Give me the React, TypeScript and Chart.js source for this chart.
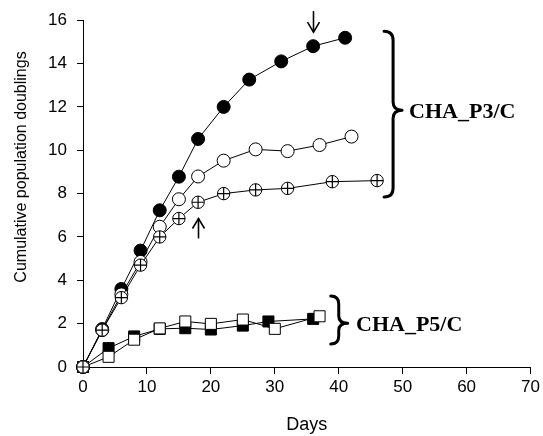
import React, { useEffect, useRef } from 'react';
import { Chart, registerables } from 'chart.js';

Chart.register(...registerables);

// ---- data (days, cumulative population doublings) ----
const filledCircleDays = [0, 3, 6, 9, 12, 15, 18, 22, 26, 31, 36, 41];
const filledCircleValues = [0, 1.75, 3.6, 5.37, 7.23, 8.78, 10.52, 12.0, 13.26, 14.1, 14.8, 15.19];

const openCircleDays = [0, 3, 6, 9, 12, 15, 18, 22, 27, 32, 37, 42];
const openCircleValues = [0, 1.7, 3.35, 4.85, 6.47, 7.74, 8.79, 9.52, 10.04, 9.96, 10.24, 10.63];

const crossCircleDays = [0, 3, 6, 9, 12, 15, 18, 22, 27, 32, 39, 46];
const crossCircleValues = [0, 1.7, 3.2, 4.7, 6.0, 6.85, 7.6, 8.0, 8.17, 8.24, 8.55, 8.6];

const filledSquareDays = [0, 4, 8, 12, 16, 20, 25, 29, 36];
const filledSquareValues = [0, 0.87, 1.41, 1.76, 1.79, 1.73, 1.91, 2.1, 2.22];

const openSquareDays = [0, 4, 8, 12, 16, 20, 25, 30, 37];
const openSquareValues = [0, 0.47, 1.26, 1.78, 2.1, 1.99, 2.19, 1.76, 2.34];

const xTickValues = [0, 10, 20, 30, 40, 50, 60, 70];
const yTickValues = [0, 2, 4, 6, 8, 10, 12, 14, 16];

const groupLabels = ['CHA_P3/C', 'CHA_P5/C'];
const xTitle = 'Days';
const yTitle = 'Cumulative population doublings';

// annotation anchors in data units
const braceP3 = { day: 48.5, top: 15.49, bottom: 7.84, mid: 11.85, textDay: 51.0 };
const braceP5 = { day: 40.0, top: 3.28, bottom: 1.06, mid: 2.02, textDay: 42.7 };
const arrowDown = { day: 36, from: 16.42, to: 15.45 };
const arrowUp = { day: 18, from: 5.93, to: 6.85 };

const toPts = (xs: number[], ys: number[]) => xs.map((d, i) => ({ x: d, y: ys[i] }));

function drawBrace(ctx: CanvasRenderingContext2D, s: number, t: number, b: number, m: number, w: number, tip: number) {
  ctx.beginPath();
  ctx.moveTo(s - w, t);
  ctx.quadraticCurveTo(s, t, s, t + w);
  ctx.lineTo(s, m - w * 0.9);
  ctx.quadraticCurveTo(s, m, s + tip, m);
  ctx.quadraticCurveTo(s, m, s, m + w * 0.9);
  ctx.lineTo(s, b - w);
  ctx.quadraticCurveTo(s, b, s - w, b);
  ctx.stroke();
}

const annotPlugin = {
  id: 'annot',
  afterDraw(chart: any) {
    const { ctx } = chart;
    const x = chart.scales.x;
    const y = chart.scales.y;
    ctx.save();
    ctx.strokeStyle = '#000';
    ctx.fillStyle = '#000';

    // arrows
    ctx.lineWidth = 1.6;
    ctx.lineCap = 'butt';
    const drawArrow = (a: { day: number; from: number; to: number }) => {
      const px = Math.round(x.getPixelForValue(a.day)) + 0.5;
      const y0 = y.getPixelForValue(a.from);
      const y1 = y.getPixelForValue(a.to);
      const dir = y1 > y0 ? 1 : -1;
      ctx.beginPath();
      ctx.moveTo(px, y0);
      ctx.lineTo(px, y1);
      ctx.stroke();
      ctx.beginPath();
      ctx.moveTo(px - 6, y1 - dir * 10);
      ctx.lineTo(px, y1);
      ctx.lineTo(px + 6, y1 - dir * 10);
      ctx.stroke();
    };
    drawArrow(arrowDown);
    drawArrow(arrowUp);

    // braces + labels
    ctx.lineWidth = 3;
    ctx.lineCap = 'round';
    ctx.lineJoin = 'round';
    const braces = [braceP3, braceP5];
    braces.forEach((br, i) => {
      const s = x.getPixelForValue(br.day);
      const t = y.getPixelForValue(br.top);
      const b = y.getPixelForValue(br.bottom);
      const m = y.getPixelForValue(br.mid);
      const w = i === 0 ? 9 : 8;
      drawBrace(ctx, s, t, b, m, w, 9);
      ctx.font = 'bold 22px "Liberation Serif", "Times New Roman", serif';
      ctx.textAlign = 'left';
      ctx.textBaseline = 'alphabetic';
      ctx.fillText(groupLabels[i], x.getPixelForValue(br.textDay), m + 7.5);
    });

    // y axis title
    ctx.font = '16px "Liberation Sans", Arial, sans-serif';
    ctx.textAlign = 'center';
    ctx.textBaseline = 'middle';
    ctx.translate(22, 167);
    ctx.rotate(-Math.PI / 2);
    ctx.fillText(yTitle, 0, 0);
    ctx.restore();
  },
};

export default function App() {
  const ref = useRef<HTMLCanvasElement>(null);

  useEffect(() => {
    if (!ref.current) return;
    const line = { borderColor: '#000', borderWidth: 1, tension: 0, clip: false as any, pointBorderColor: '#000', pointBorderWidth: 1 };
    const crossPts = toPts(crossCircleDays, crossCircleValues);
    const chart = new Chart(ref.current, {
      type: 'line',
      data: {
        datasets: [
          { ...line, label: 'P3 crossed (cross)', data: crossPts, showLine: false, pointStyle: 'cross', pointRadius: 6.2, pointBorderWidth: 1.2 },
          { ...line, label: 'P3 crossed', data: crossPts, pointStyle: 'circle', pointRadius: 6.2, pointBackgroundColor: '#fff' },
          { ...line, label: 'P3 open', data: toPts(openCircleDays, openCircleValues), pointStyle: 'circle', pointRadius: 6.5, pointBackgroundColor: '#fff' },
          { ...line, label: 'P3 filled', data: toPts(filledCircleDays, filledCircleValues), pointStyle: 'circle', pointRadius: 6.5, pointBackgroundColor: '#000' },
          { ...line, label: 'P5 open', data: toPts(openSquareDays, openSquareValues), pointStyle: 'rect', pointRadius: 7.8, pointBackgroundColor: '#fff' },
          { ...line, label: 'P5 filled', data: toPts(filledSquareDays, filledSquareValues), pointStyle: 'rect', pointRadius: 7.8, pointBackgroundColor: '#000' },
        ],
      },
      options: {
        animation: false,
        responsive: true,
        maintainAspectRatio: false,
        layout: { padding: { top: 16, right: 12, left: 0, bottom: 0 } },
        plugins: { legend: { display: false }, tooltip: { enabled: false } },
        elements: { point: { hoverRadius: 6 } },
        scales: {
          x: {
            type: 'linear',
            min: 0,
            max: 70,
            afterFit: (s: any) => { s.height = 69; },
            afterBuildTicks: (s: any) => { s.ticks = xTickValues.map((v) => ({ value: v })); },
            grid: { drawOnChartArea: false, drawTicks: true, tickLength: 7, color: '#000', lineWidth: 1 },
            border: { display: true, color: '#000', width: 1 },
            ticks: { color: '#000', padding: 3, font: { family: '"Liberation Sans", Arial, sans-serif', size: 17 }, maxRotation: 0 },
            title: { display: true, text: xTitle, color: '#000', padding: { top: 0, bottom: 0 }, font: { family: '"Liberation Sans", Arial, sans-serif', size: 18 } },
          },
          y: {
            type: 'linear',
            min: 0,
            max: 16,
            afterFit: (s: any) => { s.width = 83; },
            afterBuildTicks: (s: any) => { s.ticks = yTickValues.map((v) => ({ value: v })); },
            grid: { drawOnChartArea: false, drawTicks: true, tickLength: 6, color: '#000', lineWidth: 1 },
            border: { display: true, color: '#000', width: 1 },
            ticks: { color: '#000', padding: 10, font: { family: '"Liberation Sans", Arial, sans-serif', size: 17 } },
          },
        },
      },
      plugins: [annotPlugin],
    });
    return () => chart.destroy();
  }, []);

  return (
    <div style={{ position: 'absolute', left: 0, top: 0, width: 543, height: 436, background: '#fff' }}>
      <canvas ref={ref} />
    </div>
  );
}
